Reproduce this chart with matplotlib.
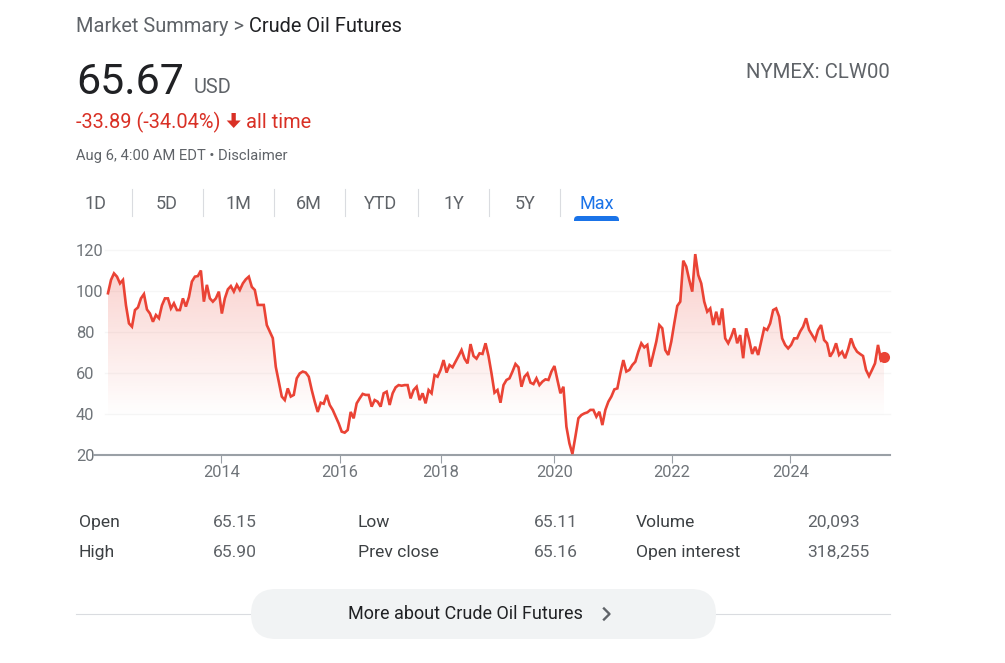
import numpy as np
import matplotlib
matplotlib.use("Agg")
import matplotlib.pyplot as plt
from matplotlib.patches import FancyBboxPatch, Polygon, Rectangle

plt.rcParams["font.family"] = ["Roboto", "DejaVu Sans"]

# closes, one per sample along the (ordinal) time axis
closes = [
    98.9, 105.4, 108.6, 107, 103.7, 105.4, 93, 84.2, 82.6, 90.7, 92, 96.4, 98.5, 91, 89, 85, 88.3, 86.7, 93, 96.4, 96.4,
    91.5, 94, 90.7, 90.7, 96.4, 92.4, 97, 104.6, 107, 107.3, 110, 94.8, 103, 96.4, 94.8, 96.4, 99.7, 89, 96.4, 100.8,
    102.4, 99.7, 103, 100.5, 103.7, 105.7, 107, 102, 100.5, 93.2, 93.2, 93.2, 83.4, 80.2, 77, 63, 55.8, 48.5, 46.8,
    52.5, 48.5, 49.3, 57.4, 59.8, 60.7, 60.2, 58.2, 51.7, 46, 41, 45.5, 45, 49.3, 44.4, 42, 38.7, 35.4, 31.4, 30.9,
    32.2, 41, 37.9, 45.2,
    47.6, 49.8, 49.3, 49.3, 43.6, 46.8, 46, 43.6, 50.1, 50.9, 44.4, 50.1, 53, 54.1, 53.8, 54.1, 54.1, 47.6, 51.7, 53.3,
    46.8, 50.1, 45.2, 51.7, 50.1, 59, 58.2, 61.5, 66.3, 60.2, 63.9, 62.8, 65.5, 68.3, 71.2, 67, 64.7, 74.1, 68.3, 67,
    69.6, 69.3, 74.5, 68.3, 59.8, 50.4, 51.7, 45.5, 54.1, 56.6, 57.4, 60.7, 64.4, 62.8, 53.3, 58.2, 59.8, 55.3, 54.6,
    57.4, 54.1, 55.8, 56.9, 56.6, 60.7, 63.4, 56.6, 50.1, 53.3, 33.8, 25.7, 20.5, 29, 37.9, 39.5, 40.3, 40.8, 42, 42,
    38.7, 41.1, 34.6, 42, 46, 48.5, 52, 52.5, 59.8, 66.3, 60.7, 61.5, 63.9, 65.5, 70.4,
    74.5, 72.5, 73.7, 63.1, 69.3, 75.3, 83.4, 81.8, 71.2, 68.8, 75.3, 84.2, 92.7, 94.8, 114.8, 111.9, 105.4, 99.7, 118,
    107.8, 103.7, 94.8, 89.9, 91.5, 83.4, 89.9, 83.4, 91.5, 76.9, 74.5, 77.7, 81.8, 74.5, 78.5, 67.2, 81.8, 76.1, 69.3,
    72.8, 68.8, 75.3, 81.8, 81, 84.2, 90.7, 91.5, 87.5, 76.9, 73.7, 72, 73.7, 76.9, 76.9, 80.2, 82.6, 86.7, 81, 78.5,
    76.1, 81, 83.4, 76.1, 74.5, 68, 70.4, 74.5, 68.8, 70.4, 67.2, 71.5, 76.9, 72.8, 70.4, 69.3, 68.3, 61.5, 58.5, 61.5,
    64.7, 73.7, 66.3, 67.6,
]
year_labels = ["2014", "2016", "2018", "2020", "2022", "2024"]
year_samples = [37.8, 77.3, 111, 149, 188.3, 227.7]
price_ticks = [20, 40, 60, 80, 100, 120]

ranges = ["1D", "5D", "1M", "6M", "YTD", "1Y", "5Y", "Max"]
stats_left = [("Open", "65.15"), ("High", "65.90")]
stats_mid = [("Low", "65.11"), ("Prev close", "65.16")]
stats_right = [("Volume", "20,093"), ("Open interest", "318,255")]

W, H = 1005, 663
RED = "#ea4335"
GREY = "#70757a"
DARK = "#5f6368"

fig = plt.figure(figsize=(W / 100, H / 100), dpi=100, facecolor="white")

# page layer, in pixels
page = fig.add_axes([0, 0, 1, 1])
page.set_xlim(0, W)
page.set_ylim(H, 0)
page.axis("off")


def px(size):
    return size * 0.72


page.text(76, 32, "Market Summary > ", color=DARK, fontsize=px(20), va="baseline")
page.text(249, 32, "Crude Oil Futures", color="#202124", fontsize=px(20), va="baseline")
page.text(76, 94, "65.67", color="#202124", fontsize=px(43), va="baseline")
page.text(194, 93, "USD", color=DARK, fontsize=px(20), va="baseline")
page.text(890, 78, "NYMEX: CLW00", color=DARK, fontsize=px(20.4), va="baseline", ha="right")

page.text(76, 128, "-33.89 (-34.04%)", color="#d93025", fontsize=px(20), va="baseline")
page.text(246, 128, "all time", color="#d93025", fontsize=px(20), va="baseline")
page.add_patch(Polygon([(231.5, 113), (235.8, 113), (235.8, 120.5), (240.7, 120.5), (233.7, 128), (226.7, 120.5), (231.5, 120.5)],
                       color="#d93025", lw=0))
page.text(76, 160, "Aug 6, 4:00 AM EDT \u2022 Disclaimer", color=DARK, fontsize=px(14.8), va="baseline")

tab_x = [96, 167, 238, 309, 381, 454, 525, 597]
for i, label in enumerate(ranges):
    color = "#1a73e8" if label == "Max" else DARK
    page.text(tab_x[i], 209, label, color=color, fontsize=px(18), ha="center", va="baseline")
for x in [131.5, 202.5, 273.5, 344.5, 417.5, 488.5, 559.5]:
    page.plot([x, x], [189, 216], color="#dadce0", lw=0.8)
clip = Rectangle((570, 215), 55, 6, transform=page.transData)
tab = FancyBboxPatch((576, 218), 41, 8, boxstyle="round,pad=2,rounding_size=4", color="#1a73e8", lw=0)
page.add_patch(tab)
tab.set_clip_path(clip)

for (rows, label_x, value_x) in [(stats_left, 79, 213), (stats_mid, 357.5, 534), (stats_right, 636, 807)]:
    for (label, value), y in zip(rows, [527, 557]):
        page.text(label_x, y, label, color="#3c4043", fontsize=px(17.5), va="baseline")
        page.text(value_x, y, value, color=DARK, fontsize=px(17.5), va="baseline")

page.plot([76, 890], [614, 614], color="#dadce0", lw=0.8, zorder=0.5)
page.add_patch(FancyBboxPatch((251, 589), 465, 50, boxstyle="round,pad=0,rounding_size=25", color="#f1f3f4", lw=0))
page.text(348, 619, "More about Crude Oil Futures", color="#202124", fontsize=px(18), va="baseline")
page.plot([604, 609.5, 604], [608.5, 614, 619.5], color=DARK, lw=1.7)

# chart layer
ax = fig.add_axes([94 / W, (H - 455) / H, 796 / W, 205 / H])
ax.patch.set_alpha(0)
sessions = np.arange(len(closes))
step = 776 / sessions[-1]
x_min, x_max = -14 / step, 782 / step
y_min, y_max = 20, 120

for p in price_ticks[1:]:
    ax.plot([-1, x_max], [p, p], color="#f6f6f6", lw=1, zorder=1, clip_on=False)

fill = ax.fill_between(sessions, closes, y_min, color="none", lw=0)
shade = np.zeros((256, 1, 4))
shade[..., :3] = matplotlib.colors.to_rgb(RED)
shade[..., 3] = np.linspace(0.26, 0, 256)[:, None]
im = ax.imshow(shade, extent=[0, sessions[-1], 38, 118], origin="upper", aspect="auto", zorder=2)
im.set_clip_path(fill.get_paths()[0], transform=ax.transData)

ax.plot(sessions, closes, color=RED, lw=1.9, zorder=3, solid_joinstyle="miter")
ax.plot(sessions[-1], closes[-1], "o", color=RED, ms=8, mew=0, zorder=4)

ax.set_xlim(x_min, x_max)
ax.set_ylim(y_min, y_max)
for side in ["top", "left", "right"]:
    ax.spines[side].set_visible(False)
ax.spines["bottom"].set_color("#9aa0a6")
ax.spines["bottom"].set_linewidth(1.5)
ax.set_xticks(year_samples, year_labels, color=GREY, fontsize=px(16.5))
ax.tick_params(axis="x", length=6, width=0.8, color="#9aa0a6", pad=1)
ax.set_yticks(price_ticks, [str(p) for p in price_ticks], color=GREY, fontsize=px(16.5))
ax.tick_params(axis="y", length=0, pad=px(18))
for lab in ax.get_yticklabels():
    lab.set_horizontalalignment("left")

fig.savefig("out.png", dpi=100)
